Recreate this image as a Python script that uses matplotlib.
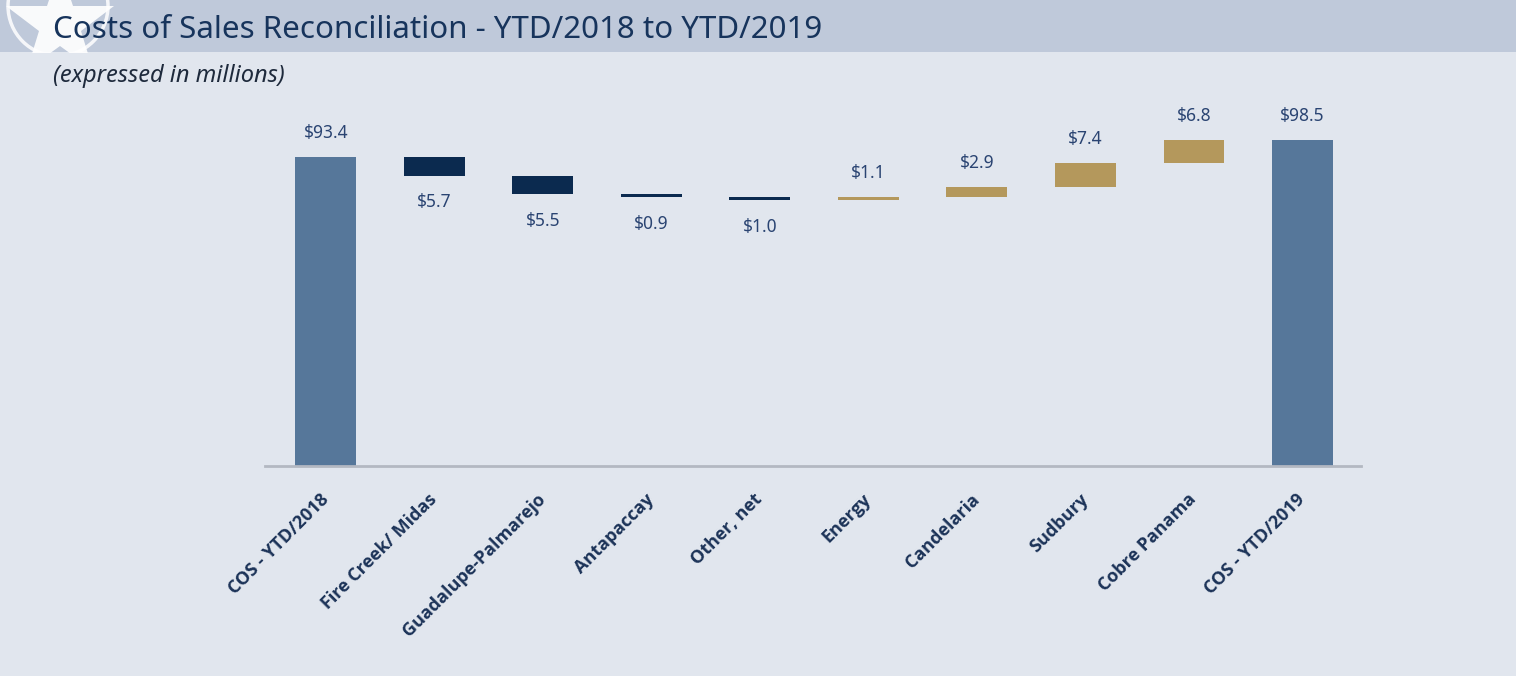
import matplotlib
matplotlib.use("Agg")
import matplotlib.pyplot as plt
import matplotlib.transforms as mtransforms
from matplotlib.patches import Rectangle, Circle
import numpy as np

categories = ["COS - YTD/2018", "Fire Creek/ Midas", "Guadalupe-Palmarejo", "Antapaccay",
              "Other, net", "Energy", "Candelaria", "Sudbury", "Cobre Panama", "COS - YTD/2019"]
start_total = 93.4
changes = [-5.7, -5.5, -0.9, -1.0, 1.1, 2.9, 7.4, 6.8]
end_total = 98.5

BG = "#E1E6EE"
HEADER = "#BFC9DA"
TOTAL_C = "#56779A"
NEG_C = "#0B2A4F"
POS_C = "#B4985C"
LABEL_C = "#2A4472"
TICK_C = "#1C3358"

fig = plt.figure(figsize=(15.16, 6.76), dpi=100, facecolor=BG)

# header band
fig.patches.append(Rectangle((0, 1 - 52 / 676), 1, 52 / 676, transform=fig.transFigure,
                             facecolor=HEADER, edgecolor="none", zorder=-5))
# logo (partial circle + star)
logo_ax = fig.add_axes([0, 1 - 52 / 676, 130 / 1516, 52 / 676], zorder=2)
logo_ax.set_xlim(0, 130)
logo_ax.set_ylim(52, 0)
logo_ax.axis("off")
logo_ax.patch.set_visible(False)
logo_ax.add_patch(Circle((58, 6), 50, facecolor="none", edgecolor="white", lw=2.5, alpha=0.85,
                         clip_on=True))
logo_ax.plot([60], [24], marker="*", markersize=82, color="white", alpha=0.92,
             markeredgewidth=0, clip_on=True)

fig.text(53 / 1516, 1 - 30 / 676, "Costs of Sales Reconciliation - YTD/2018 to YTD/2019",
         fontsize=22.5, color="#17345C", family="Noto Sans", va="center", ha="left", zorder=5)
fig.text(53 / 1516, 1 - 76 / 676, "(expressed in millions)", fontsize=17, style="italic",
         color="#1E2A3C", family="Noto Sans", va="center", ha="left")

ax = fig.add_axes([265 / 1516, 1 - 466 / 676, (1361 - 265) / 1516, (466 - 102) / 676])
ax.set_facecolor("none")
ax.set_xlim(-0.56, 9.54)
ax.set_ylim(0, 110)

x = np.arange(len(categories))
w = 0.56
lab_kw = dict(fontsize=12.5, color=LABEL_C, family="Noto Sans", fontweight="medium", ha="center")
# totals
ax.bar(x[0], start_total, width=w, color=TOTAL_C)
ax.text(x[0], start_total + 4.5, f"${start_total:.1f}", va="bottom", **lab_kw)
cum = start_total
for i, c in enumerate(changes, start=1):
    bottom = cum + c if c < 0 else cum
    color = NEG_C if c < 0 else POS_C
    ax.bar(x[i], abs(c), bottom=bottom, width=w, color=color)
    if c < 0:
        ax.text(x[i], cum + c - 5.3, f"${abs(c):.1f}", va="top", **lab_kw)
    else:
        ax.text(x[i], cum + c + 4.5, f"${abs(c):.1f}", va="bottom", **lab_kw)
    cum += c
ax.bar(x[-1], end_total, width=w, color=TOTAL_C)
ax.text(x[-1], end_total + 4.5, f"${end_total:.1f}", va="bottom", **lab_kw)

for s in ["top", "right", "left"]:
    ax.spines[s].set_visible(False)
ax.spines["bottom"].set_color("#B3B8C2")
ax.spines["bottom"].set_linewidth(2)
ax.set_yticks([])
ax.set_xticks(x)
ax.set_xticklabels(categories, rotation=45, ha="right", rotation_mode="anchor",
                   fontsize=13, color=TICK_C, family="Open Sans", fontweight="bold")
offset = mtransforms.ScaledTranslation(-9 / 100, 5 / 100, fig.dpi_scale_trans)
for lbl in ax.get_xticklabels():
    lbl.set_va("center")
    lbl.set_transform(lbl.get_transform() + offset)
ax.tick_params(axis="x", length=0, pad=22)

fig.savefig("out.png", dpi=100, facecolor=BG)
